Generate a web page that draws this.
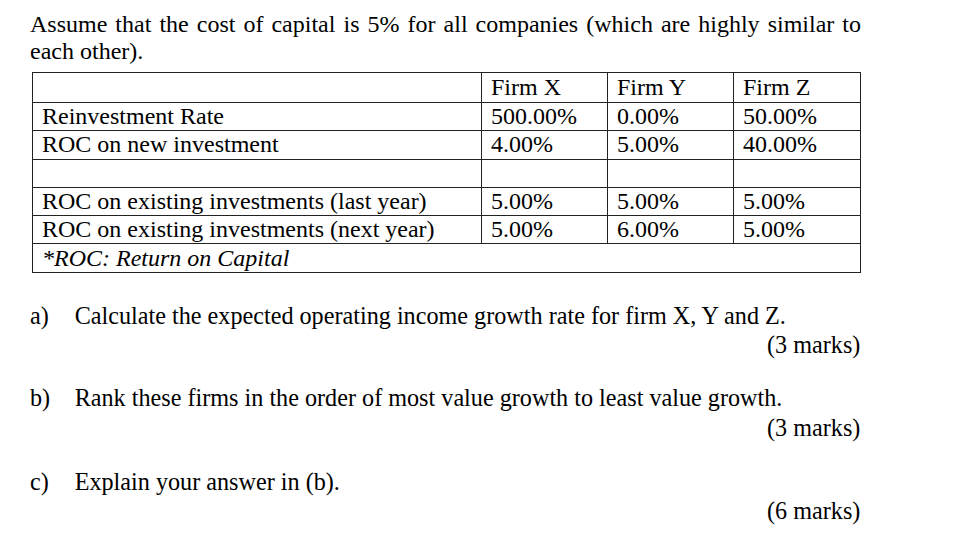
<!DOCTYPE html>
<html>
<head>
<meta charset="utf-8">
<script src="https://cdn.jsdelivr.net/npm/chart.js@4"></script>
<style>
  html, body { margin: 0; padding: 0; background: #fff; }
  body { width: 970px; height: 541px; position: relative; overflow: hidden;
         font-family: "Liberation Serif", "Times New Roman", serif; color: #000; }
  #intro { position: absolute; left: 30px; top: 11px; width: 831px; font-size: 24px;
           line-height: 27px; text-align: justify; }
  #tbl { position: absolute; left: 32px; top: 72px; border-collapse: collapse;
         font-size: 24px; }
  #tbl td { border: 1px solid #222; padding: 0 0 0 9px; height: 27.3px; line-height: 27px;
            vertical-align: middle; white-space: nowrap; }
  #tbl tr.head td { height: 29px; }
  #tbl td.lbl { width: 439px; }
  #tbl td.val { width: 116px; }
  #tbl td.val3 { width: 117px; }
  #tbl tr.note td { font-style: italic; }
  .q { position: absolute; left: 30px; font-size: 26px; transform: scaleX(0.93);
       transform-origin: left top; white-space: nowrap; }
  .q span.tag { display: inline-block; width: 48px; }
  .m { position: absolute; right: 110px; font-size: 26px; transform: scaleX(0.93);
       transform-origin: right top; white-space: nowrap; }
</style>
</head>
<body>
<div id="intro">Assume that the cost of capital is 5% for all companies (which are highly similar to each other).</div>
<table id="tbl"></table>
<div id="questions"></div>
<script>
// table contents
const firms = ["Firm X", "Firm Y", "Firm Z"];
const rowLabels = [
  "Reinvestment Rate",
  "ROC on new investment",
  "",
  "ROC on existing investments (last year)",
  "ROC on existing investments (next year)"
];
const firmX = [500, 4, null, 5, 5];
const firmY = [0, 5, null, 5, 6];
const firmZ = [50, 40, null, 5, 5];
const footNote = "*ROC: Return on Capital";

// questions
const questions = [
  ["a)", "Calculate the expected operating income growth rate for firm X, Y and Z."],
  ["b)", "Rank these firms in the order of most value growth to least value growth."],
  ["c)", "Explain your answer in (b)."]
];
const marks = ["(3 marks)", "(3 marks)", "(6 marks)"];
const qTops = [301, 383, 467];
const mTops = [330, 413, 496];

function pct(v) {
  return v === null ? "" : v.toFixed(2) + "%";
}

const tbl = document.getElementById("tbl");
let html = "<tr class='head'><td class='lbl'></td>" +
  firms.map((f, i) => "<td class='" + (i == 2 ? "val3" : "val") + "'>" + f + "</td>").join("") + "</tr>";
rowLabels.forEach((lab, i) => {
  html += "<tr><td class='lbl'>" + lab + "</td><td>" + pct(firmX[i]) + "</td><td>" +
    pct(firmY[i]) + "</td><td>" + pct(firmZ[i]) + "</td></tr>";
});
html += "<tr class='note'><td colspan='4'>" + footNote + "</td></tr>";
tbl.innerHTML = html;

const qDiv = document.getElementById("questions");
questions.forEach((q, i) => {
  const d = document.createElement("div");
  d.className = "q";
  d.style.top = qTops[i] + "px";
  d.innerHTML = "<span class='tag'>" + q[0] + "</span>" + q[1];
  qDiv.appendChild(d);
  const m = document.createElement("div");
  m.className = "m";
  m.style.top = mTops[i] + "px";
  m.textContent = marks[i];
  qDiv.appendChild(m);
});
</script>
</body>
</html>
